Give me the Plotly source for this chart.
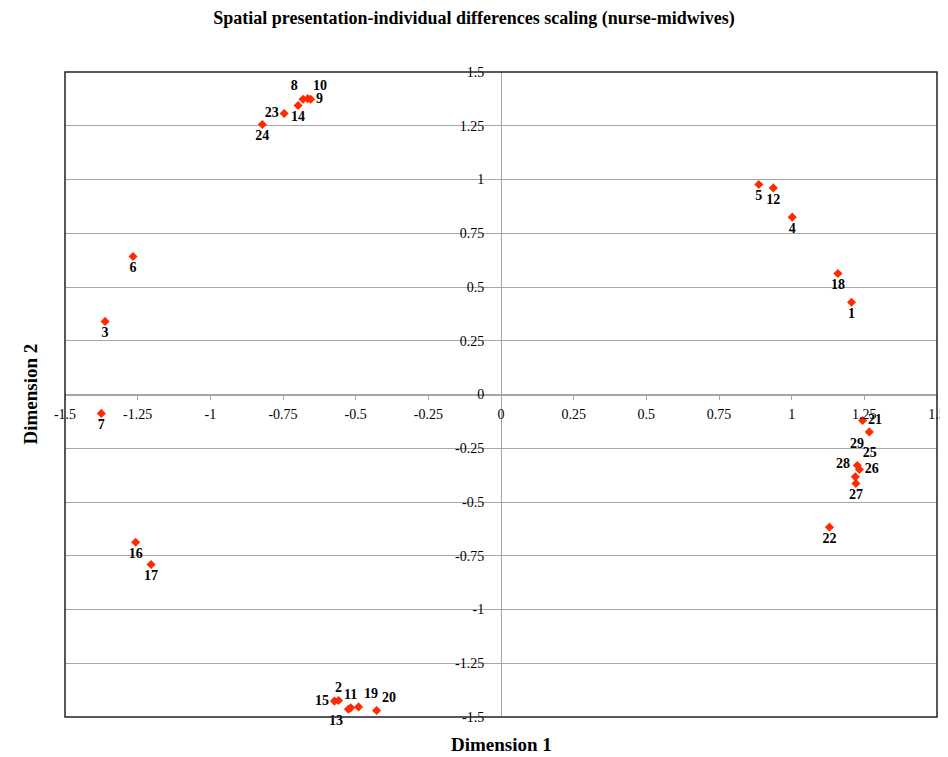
import plotly.graph_objects as go

# ---- data ----
point_ids = [str(i) for i in range(1, 30)]
dim1 = [1.206, -0.559, -1.362, 1.002, 0.887, -1.266, -1.375, -0.681, -0.655, -0.665,
        -0.517, 0.937, -0.525, -0.698, -0.573, -1.257, -1.204, 1.159, -0.490, -0.428,
        1.244, 1.130, -0.746, -0.821, 1.226, 1.233, 1.221, 1.219, 1.267]
dim2 = [0.429, -1.423, 0.340, 0.825, 0.977, 0.642, -0.088, 1.373, 1.373, 1.376,
        -1.457, 0.961, -1.464, 1.344, -1.426, -0.687, -0.791, 0.563, -1.453, -1.470,
        -0.121, -0.617, 1.307, 1.256, -0.330, -0.349, -0.414, -0.383, -0.174]

x_tick_values = [-1.5, -1.25, -1, -0.75, -0.5, -0.25, 0, 0.25, 0.5, 0.75, 1, 1.25, 1.5]
x_tick_labels = ["-1.5", "-1.25", "-1", "-0.75", "-0.5", "-0.25", "0", "0.25", "0.5", "0.75", "1", "1.25", "1.5"]
y_tick_values = [-1.5, -1.25, -1, -0.75, -0.5, -0.25, 0, 0.25, 0.5, 0.75, 1, 1.25, 1.5]
y_tick_labels = ["-1.5", "-1.25", "-1", "-0.75", "-0.5", "-0.25", "0", "0.25", "0.5", "0.75", "1", "1.25", "1.5"]

title_text = "Spatial presentation-individual differences scaling (nurse-midwives)"
x_title = "Dimension 1"
y_title = "Dimension 2"

# ---- label placement (style) ----
label_positions = [
    "bottom center",  # 1
    "top center",     # 2
    "bottom center",  # 3
    "bottom center",  # 4
    "bottom center",  # 5
    "bottom center",  # 6
    "bottom center",  # 7
    "top left",       # 8
    "middle right",   # 9
    "top right",      # 10
    "top center",     # 11
    "bottom center",  # 12
    "bottom left",    # 13
    "bottom center",  # 14
    "middle left",    # 15
    "bottom center",  # 16
    "bottom center",  # 17
    "bottom center",  # 18
    "top right",      # 19
    "top right",      # 20
    "middle right",   # 21
    "bottom center",  # 22
    "middle left",    # 23
    "bottom center",  # 24
    "top right",      # 25
    "middle right",   # 26
    "bottom center",  # 27
    "top left",       # 28
    "bottom left",    # 29
]

SERIF = "Liberation Serif, Times New Roman, serif"
GRID = "#a6a6a6"

# the page body has an 8px default margin; size the figure so that it fits the window
PAGE_OFFSET = 8
W, H = 948 - PAGE_OFFSET, 757 - PAGE_OFFSET
L, T, R, B = 65 - PAGE_OFFSET, 72 - PAGE_OFFSET, 11, 40
PW, PH = W - L - R, H - T - B

fig = go.Figure()
fig.add_trace(go.Scatter(
    x=dim1, y=dim2, mode="markers+text",
    text=point_ids, textposition=label_positions,
    textfont=dict(family=SERIF, size=14, color="black", weight="bold"),
    marker=dict(symbol="diamond", size=7, color="#ff2a00", line=dict(width=0)),
    cliponaxis=False, showlegend=False, hoverinfo="skip",
))

fig.update_layout(
    width=W, height=H,
    margin=dict(l=L, r=R, t=T, b=B, autoexpand=False),
    paper_bgcolor="white", plot_bgcolor="white",
    showlegend=False,
    font=dict(family=SERIF, size=14, color="black"),
    title=dict(text=title_text, x=(474 - PAGE_OFFSET) / W, xref="container", xanchor="center",
               y=1 - (18 - PAGE_OFFSET) / H, yref="container", yanchor="middle",
               font=dict(family=SERIF, size=18, color="black", weight="bold")),
    xaxis=dict(range=[-1.5, 1.5], anchor="free", position=0.5, automargin=False,
               showgrid=False, zeroline=False,
               showline=True, linecolor=GRID, linewidth=1,
               ticks="outside", ticklen=4, tickcolor=GRID, tickwidth=1,
               tickvals=x_tick_values, ticktext=x_tick_labels,
               ticklabelstandoff=3,
               tickfont=dict(family=SERIF, size=14, color="black")),
    yaxis=dict(range=[-1.5, 1.5], anchor="free", position=0.5, automargin=False,
               showgrid=True, gridcolor=GRID, gridwidth=1, zeroline=False,
               showline=True, linecolor=GRID, linewidth=1,
               ticks="", tickvals=y_tick_values, ticktext=y_tick_labels,
               ticklabelstandoff=14,
               tickfont=dict(family=SERIF, size=14, color="black")),
    shapes=[dict(type="rect", xref="paper", yref="paper", x0=0, y0=0, x1=1, y1=1,
                 line=dict(color="#222222", width=1.5), layer="above")],
    annotations=[
        dict(text=x_title, xref="paper", yref="paper", x=(501 - 65) / PW, y=-27 / PH,
             xanchor="center", yanchor="middle", showarrow=False,
             font=dict(family=SERIF, size=19, color="black", weight="bold")),
        dict(text=y_title, xref="paper", yref="paper", x=-35 / PW, y=0.5,
             xanchor="center", yanchor="middle", showarrow=False, textangle=-90,
             font=dict(family=SERIF, size=19, color="black", weight="bold")),
    ],
)

fig.write_html("out.html")
